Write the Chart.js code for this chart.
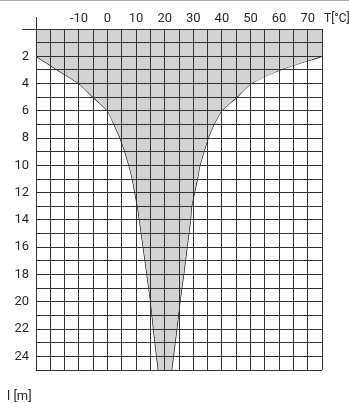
<!DOCTYPE html>
<html>
<head>
<meta charset="utf-8">
<script src="https://cdn.jsdelivr.net/npm/chart.js@4.4.0/dist/chart.umd.min.js"></script>
<style>
  body { margin: 0; background: #fff; }
  #wrap { width: 349px; height: 403px; }
</style>
</head>
<body>
<div id="wrap"><canvas id="chart" width="349" height="403"></canvas></div>
<script>
// depth l [m] and the temperature envelope T [°C]
const depth = [2, 3, 4, 5, 6, 7, 8, 9, 10, 11, 12, 13, 14, 16, 18, 20, 22, 24, 25];
const tMin  = [-25, -17.5, -10, -5, 0, 2.3, 4.4, 6.1, 7.5, 8.7, 9.6, 10.5, 11.2, 12.5, 13.8, 15.1, 16.1, 17.2, 17.8];
const tMax  = [75, 60.3, 50.2, 45.2, 39.9, 37.2, 35.2, 33.7, 32.3, 31.4, 30.4, 29.4, 29.0, 27.8, 26.6, 25.3, 24.2, 23.0, 22.4];

const xTickLabels = [-10, 0, 10, 20, 30, 40, 50, 60, 70];
const yTickLabels = [2, 4, 6, 8, 10, 12, 14, 16, 18, 20, 22, 24];
const xTitle = 'T[°C]';
const yTitle = 'l [m]';

const gridColor = '#333';
const textColor = '#2a2a2a';
const fontFamily = "Roboto, 'Liberation Sans', sans-serif";

// zone between the curves, plus the top band (0-2 m) over the full width
const leftPts = depth.map((d, i) => ({ x: tMin[i], y: d }));
const rightPts = depth.map((d, i) => ({ x: tMax[i], y: d }));
const shape = [{ x: -25, y: 0 }].concat(leftPts, rightPts.slice().reverse(), [{ x: 75, y: 0 }]);

const extras = {
    id: 'extras',
    afterDraw(chart) {
        const { ctx, chartArea: a } = chart;
        ctx.save();
        // thin line along the top of the picture
        ctx.strokeStyle = '#b0b0b0';
        ctx.lineWidth = 1;
        ctx.beginPath();
        ctx.moveTo(0, 0.5);
        ctx.lineTo(chart.width, 0.5);
        ctx.stroke();
        // axis lines running past the corner
        ctx.strokeStyle = gridColor;
        ctx.beginPath();
        ctx.moveTo(a.left + 0.5, 17);
        ctx.lineTo(a.left + 0.5, a.top);
        ctx.moveTo(22, a.top + 0.5);
        ctx.lineTo(a.left, a.top + 0.5);
        ctx.stroke();
        // axis titles
        ctx.fillStyle = textColor;
        ctx.textBaseline = 'middle';
        ctx.textAlign = 'left';
        ctx.font = '12px ' + fontFamily;
        ctx.fillText(xTitle, a.right + 2, 19);
        ctx.font = '13px ' + fontFamily;
        ctx.fillText(yTitle, 7, 397);
        ctx.restore();
    }
};

new Chart(document.getElementById('chart'), {
    type: 'line',
    data: {
        datasets: [
            {
                data: shape,
                fill: 'shape',
                backgroundColor: '#d3d3d3',
                borderWidth: 0,
                tension: 0,
                pointRadius: 0
            },
            {
                data: leftPts,
                fill: false,
                borderColor: '#000',
                borderWidth: 1.2,
                tension: 0.25,
                pointRadius: 0
            },
            {
                data: rightPts,
                fill: false,
                borderColor: '#000',
                borderWidth: 1.2,
                tension: 0.25,
                pointRadius: 0
            }
        ]
    },
    options: {
        responsive: false,
        animation: false,
        devicePixelRatio: 1,
        layout: { padding: { left: 0, top: 0, right: 27, bottom: 33 } },
        plugins: {
            legend: { display: false },
            tooltip: { enabled: false }
        },
        scales: {
            x: {
                type: 'linear',
                position: 'top',
                min: -25,
                max: 75,
                afterFit: s => { s.height = 29; },
                grid: { color: gridColor, lineWidth: 1, drawTicks: false, z: 1 },
                border: { color: gridColor, z: 1 },
                ticks: {
                    stepSize: 5,
                    autoSkip: false,
                    maxRotation: 0,
                    padding: 2,
                    z: 1,
                    color: textColor,
                    font: { family: fontFamily, size: 13 },
                    callback: v => xTickLabels.includes(v) ? String(v) : ''
                }
            },
            y: {
                type: 'linear',
                reverse: true,
                min: 0,
                max: 25,
                afterFit: s => { s.width = 36; },
                grid: { color: gridColor, lineWidth: 1, drawTicks: false, z: 1 },
                border: { color: gridColor, z: 1 },
                ticks: {
                    stepSize: 1,
                    autoSkip: false,
                    padding: 7,
                    z: 1,
                    color: textColor,
                    font: { family: fontFamily, size: 13 },
                    callback: v => yTickLabels.includes(v) ? String(v) : ''
                }
            }
        }
    },
    plugins: [extras]
});
</script>
</body>
</html>
